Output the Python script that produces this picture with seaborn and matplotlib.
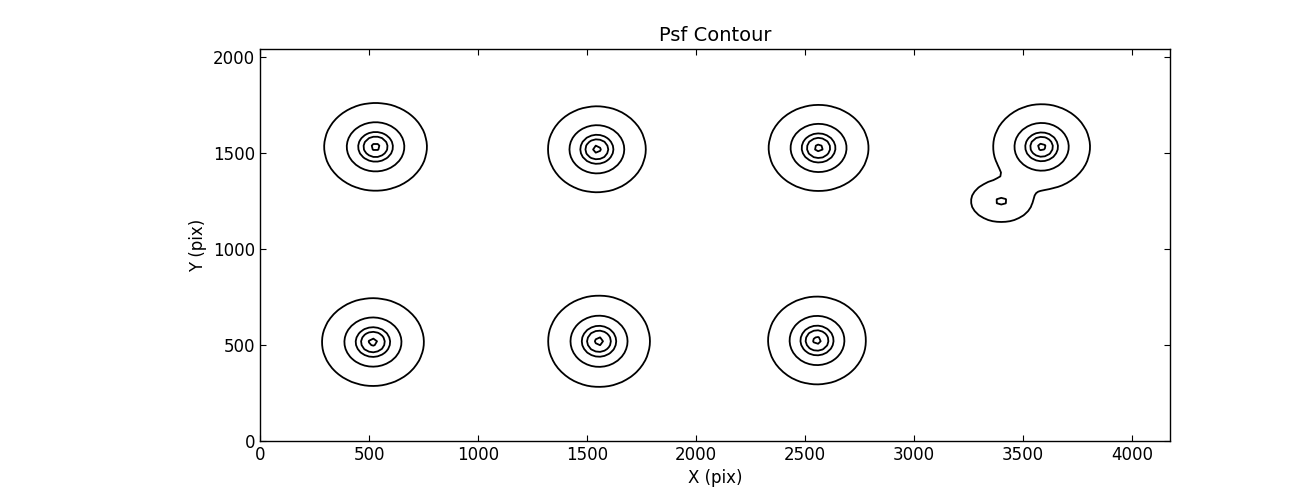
import numpy as np
import matplotlib
matplotlib.use('Agg')
import matplotlib.pyplot as plt
import seaborn as sns

# estrellas (centro, ancho, brillo relativo)
star_x = [530, 1545, 2562, 3585, 518, 1555, 2555, 3400]
star_y = [1534, 1521, 1528, 1534, 516, 520, 524, 1250]
star_sx = [103, 98, 100, 97, 102, 102, 98, 72]
star_sy = [100, 98, 98, 97, 100, 104, 100, 56]
star_amp = [1.0, 1.0, 1.0, 1.0, 1.0, 1.0, 1.0, 0.465]

# niveles de contorno
niveles = [0.074, 0.44, 0.74, 0.865, 0.98]

x_max = 4174
y_max = 2044

sns.set_style("ticks")
plt.rcParams['font.family'] = ['DejaVu Sans']
plt.rcParams['text.color'] = 'black'
plt.rcParams['axes.labelcolor'] = 'black'
plt.rcParams['xtick.direction'] = 'in'
plt.rcParams['ytick.direction'] = 'in'
plt.rcParams['xtick.top'] = True
plt.rcParams['ytick.right'] = True

# malla de la imagen
xs = np.arange(0, x_max + 1, 20)
ys = np.arange(0, y_max + 1, 20)
X, Y = np.meshgrid(xs, ys)
Z = np.zeros_like(X, dtype=float)
for cx, cy, sx, sy, a in zip(star_x, star_y, star_sx, star_sy, star_amp):
    Z += a * np.exp(-((X - cx) ** 2 / (2 * sx ** 2) + (Y - cy) ** 2 / (2 * sy ** 2)))

fig = plt.figure(figsize=(13, 4.9), dpi=100)
ax = fig.add_axes([260 / 1300, 49 / 490, 910 / 1300, 392 / 490])
ax.contour(X, Y, Z, levels=niveles, colors='black', linewidths=1.3)

ax.set_xlim(0, x_max)
ax.set_ylim(0, y_max)
ax.set_xticks(np.arange(0, 4001, 500))
ax.set_yticks(np.arange(0, 2001, 500))
ax.tick_params(labelsize=12, length=4, width=0.8, color='black', labelcolor='black')
for s in ax.spines.values():
    s.set_visible(True)
    s.set_color('black')
    s.set_linewidth(1.0)

ax.set_title('Psf Contour', fontsize=14, color='black')
ax.set_xlabel('X (pix)', fontsize=12)
ax.set_ylabel('Y (pix)', fontsize=12)

fig.savefig('out.png', dpi=100)
